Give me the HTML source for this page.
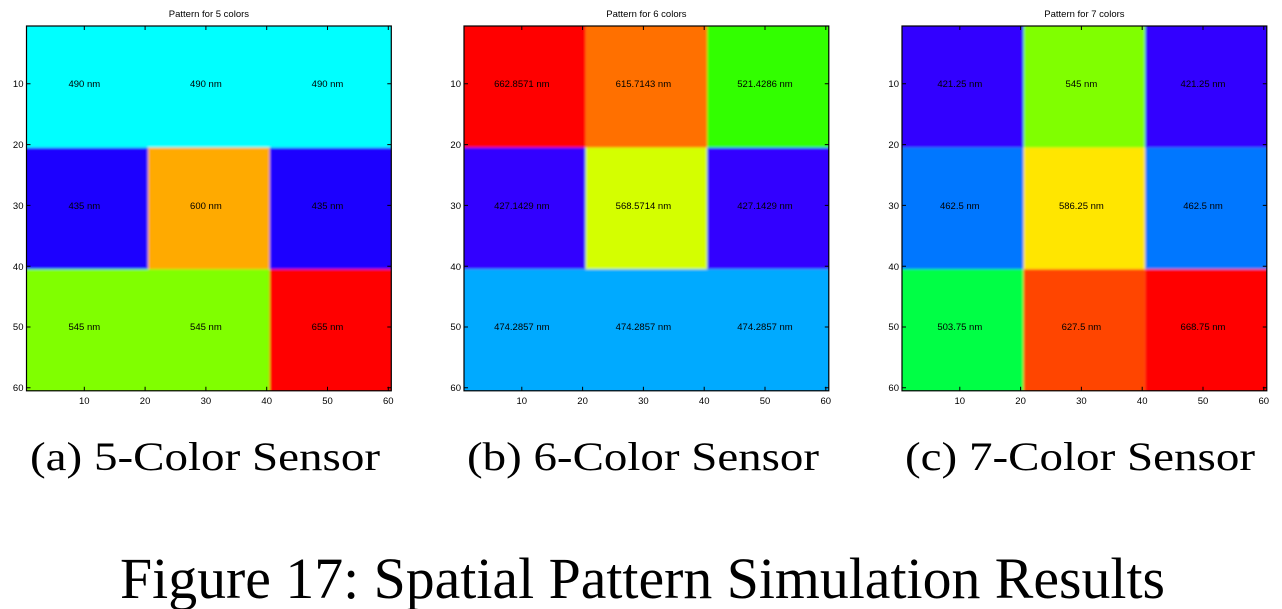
<!DOCTYPE html>
<html><head><meta charset="utf-8"><style>
html,body{margin:0;padding:0;background:#fff;width:1282px;height:609px;overflow:hidden}
svg{display:block}
.t{font-family:"Liberation Sans",sans-serif;font-size:9.5px;fill:#000}
.c{font-family:"Liberation Serif",serif;fill:#000}
</style></head><body>
<svg width="1282" height="609" viewBox="0 0 1282 609" xmlns="http://www.w3.org/2000/svg">
<defs>
<filter id="b" x="0" y="0" width="1" height="1"><feGaussianBlur stdDeviation="1.3"/></filter>
<clipPath id="cp"><rect x="0" y="0" width="364.8" height="364.8"/></clipPath>
<g id="ax">
<rect x="0" y="0" width="364.8" height="364.8" fill="none" stroke="#000" stroke-width="1.2"/>
<path d="M57.8 0v4M118.6 0v4M179.4 0v4M240.2 0v4M301 0v4M361.8 0v4
M57.8 364.8v-4M118.6 364.8v-4M179.4 364.8v-4M240.2 364.8v-4M301 364.8v-4M361.8 364.8v-4
M0 57.8h4M0 118.6h4M0 179.4h4M0 240.2h4M0 301h4M0 361.8h4
M364.8 57.8h-4M364.8 118.6h-4M364.8 179.4h-4M364.8 240.2h-4M364.8 301h-4M364.8 361.8h-4" stroke="#000" stroke-width="1"/>
<g class="t" text-anchor="middle">
<text x="57.8" y="378">10</text><text x="118.6" y="378">20</text><text x="179.4" y="378">30</text><text x="240.2" y="378">40</text><text x="301" y="378">50</text><text x="361.8" y="378">60</text>
</g>
<g class="t" text-anchor="end">
<text x="-3" y="61">10</text><text x="-3" y="122">20</text><text x="-3" y="183">30</text><text x="-3" y="244">40</text><text x="-3" y="304">50</text><text x="-3" y="365">60</text>
</g>
</g>
</defs>

<!-- Panel a -->
<g transform="translate(26.5,26)">
<g clip-path="url(#cp)"><g filter="url(#b)">
<rect x="-5" y="-5" width="375" height="126.6" fill="#00ffff"/>
<rect x="-5" y="121.6" width="126.6" height="121.6" fill="#1a00ff"/>
<rect x="121.6" y="121.6" width="121.6" height="121.6" fill="#ffaa00"/>
<rect x="243.2" y="121.6" width="126.6" height="121.6" fill="#1a00ff"/>
<rect x="-5" y="243.2" width="248.2" height="126.6" fill="#80ff00"/>
<rect x="243.2" y="243.2" width="126.6" height="126.6" fill="#ff0000"/>
</g></g>
<g class="t" text-anchor="middle">
<text x="57.8" y="61">490 nm</text><text x="179.4" y="61">490 nm</text><text x="301" y="61">490 nm</text>
<text x="57.8" y="183">435 nm</text><text x="179.4" y="183">600 nm</text><text x="301" y="183">435 nm</text>
<text x="57.8" y="304">545 nm</text><text x="179.4" y="304">545 nm</text><text x="301" y="304">655 nm</text>
<text x="182.4" y="-9">Pattern for 5 colors</text>
</g>
<use href="#ax"/>
</g>

<!-- Panel b -->
<g transform="translate(464,26)">
<g clip-path="url(#cp)"><g filter="url(#b)">
<rect x="-5" y="-5" width="126.6" height="126.6" fill="#ff0000"/>
<rect x="121.6" y="-5" width="121.6" height="126.6" fill="#ff7000"/>
<rect x="243.2" y="-5" width="126.6" height="126.6" fill="#33ff00"/>
<rect x="-5" y="121.6" width="126.6" height="121.6" fill="#3300ff"/>
<rect x="121.6" y="121.6" width="121.6" height="121.6" fill="#d4ff00"/>
<rect x="243.2" y="121.6" width="126.6" height="121.6" fill="#3300ff"/>
<rect x="-5" y="243.2" width="375" height="126.6" fill="#00aaff"/>
</g></g>
<g class="t" text-anchor="middle">
<text x="57.8" y="61">662.8571 nm</text><text x="179.4" y="61">615.7143 nm</text><text x="301" y="61">521.4286 nm</text>
<text x="57.8" y="183">427.1429 nm</text><text x="179.4" y="183">568.5714 nm</text><text x="301" y="183">427.1429 nm</text>
<text x="57.8" y="304">474.2857 nm</text><text x="179.4" y="304">474.2857 nm</text><text x="301" y="304">474.2857 nm</text>
<text x="182.4" y="-9">Pattern for 6 colors</text>
</g>
<use href="#ax"/>
</g>

<!-- Panel c -->
<g transform="translate(902,26)">
<g clip-path="url(#cp)"><g filter="url(#b)">
<rect x="-5" y="-5" width="126.6" height="126.6" fill="#3300ff"/>
<rect x="121.6" y="-5" width="121.6" height="126.6" fill="#80ff00"/>
<rect x="243.2" y="-5" width="126.6" height="126.6" fill="#3300ff"/>
<rect x="-5" y="121.6" width="126.6" height="121.6" fill="#0077ff"/>
<rect x="121.6" y="121.6" width="121.6" height="121.6" fill="#ffe600"/>
<rect x="243.2" y="121.6" width="126.6" height="121.6" fill="#0077ff"/>
<rect x="-5" y="243.2" width="126.6" height="126.6" fill="#00ff44"/>
<rect x="121.6" y="243.2" width="121.6" height="126.6" fill="#ff4400"/>
<rect x="243.2" y="243.2" width="126.6" height="126.6" fill="#ff0000"/>
</g></g>
<g class="t" text-anchor="middle">
<text x="57.8" y="61">421.25 nm</text><text x="179.4" y="61">545 nm</text><text x="301" y="61">421.25 nm</text>
<text x="57.8" y="183">462.5 nm</text><text x="179.4" y="183">586.25 nm</text><text x="301" y="183">462.5 nm</text>
<text x="57.8" y="304">503.75 nm</text><text x="179.4" y="304">627.5 nm</text><text x="301" y="304">668.75 nm</text>
<text x="182.4" y="-9">Pattern for 7 colors</text>
</g>
<use href="#ax"/>
</g>

<g class="c" font-size="40">
<text x="30" y="470" textLength="350" lengthAdjust="spacingAndGlyphs">(a) 5-Color Sensor</text>
<text x="467" y="470" textLength="352" lengthAdjust="spacingAndGlyphs">(b) 6-Color Sensor</text>
<text x="905" y="470" textLength="350" lengthAdjust="spacingAndGlyphs">(c) 7-Color Sensor</text>
</g>
<text class="c" font-size="58" x="120" y="598" textLength="1045" lengthAdjust="spacingAndGlyphs">Figure 17: Spatial Pattern Simulation Results</text>
</svg>
</body></html>
